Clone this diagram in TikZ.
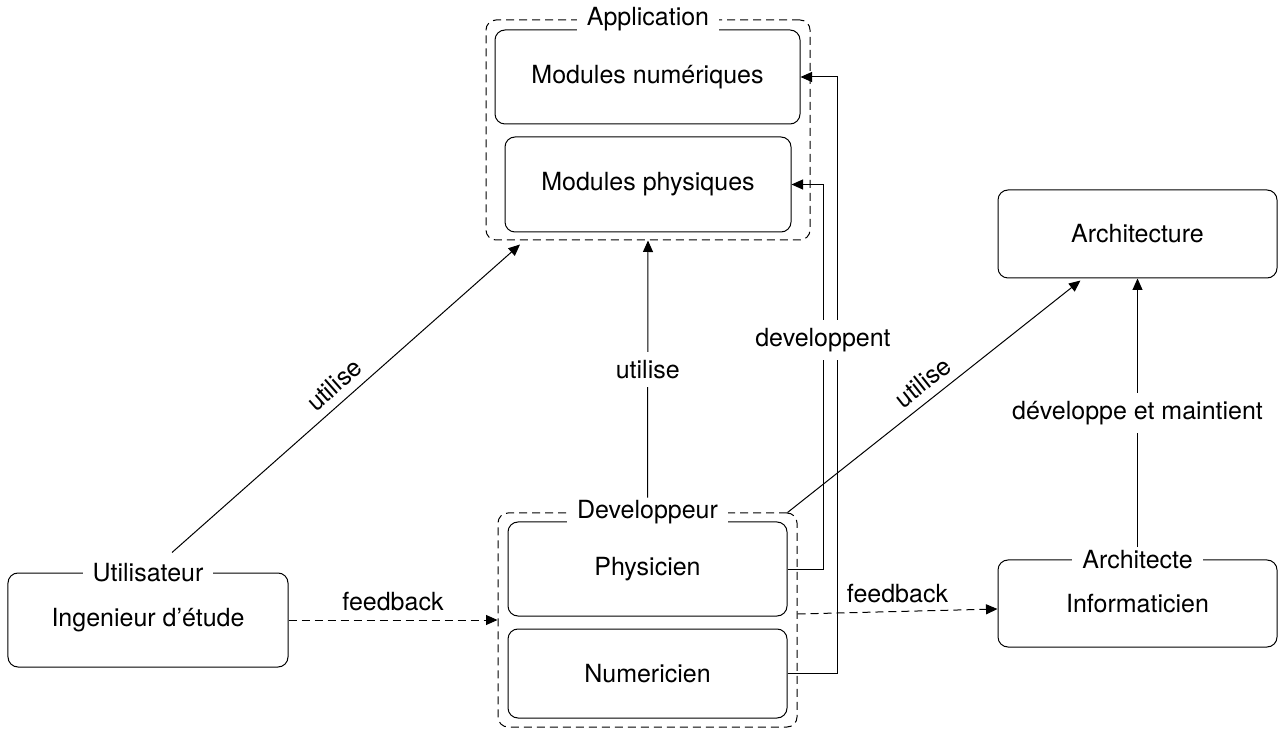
\documentclass[tikz,border=0pt]{standalone}
\usepackage{fontspec}
\setmainfont{TeX Gyre Heros}
\usetikzlibrary{arrows.meta,calc}
\begin{document}
\begin{tikzpicture}[x=0.4pt,y=-0.4pt,
	box/.style={draw,rounded corners=4pt,inner sep=0pt},
	grp/.style={draw,rounded corners=4pt,dash pattern=on 3.2pt off 2pt,inner sep=0pt},
	ttl/.style={fill=white,inner xsep=4pt,inner ysep=1pt},
	lbl/.style={fill=white,inner xsep=2pt,inner ysep=3.3pt},
	arr/.style={-{Triangle[length=4.6pt,width=4pt]}},
	fb/.style={arr,dash pattern=on 3.2pt off 2pt}]
			\useasboundingbox(0,0) rectangle (1279,731);
			\node[grp,minimum width=129.6pt,minimum height=88pt] (app) at(648,130){};
			\node[box,minimum width=122pt,minimum height=37.6pt] (modnum) at(647.5,77){Modules numériques};
			\node[box,minimum width=114.4pt,minimum height=38pt] (modphys) at(648,184.5){Modules physiques};
			\node[ttl] (apptitle) at(app.north){Application};
			\node[grp,minimum width=119.6pt,minimum height=85.6pt] (dev) at(647.5,620){};
			\node[box,minimum width=111.6pt,minimum height=37.6pt] (phys) at(647.5,569){Physicien};
			\node[box,minimum width=111.6pt,minimum height=35.6pt] (numer) at(647.5,673.5){Numericien};
			\node[ttl] (devtitle) at(dev.north){Developpeur};
			\node[box,minimum width=112pt,minimum height=37.6pt] (util) at(148,620){Ingenieur d’étude};
			\node[ttl] (utiltitle) at(util.north){Utilisateur};
			\node[box,minimum width=111.6pt,minimum height=35.2pt] (archi) at(1137.5,234){Architecture};
			\node[box,minimum width=111.6pt,minimum height=34.8pt] (archt) at(1137.5,603.5){Informaticien};
			\node[ttl] (archttitle) at(archt.north){Architecte};
			\draw[arr]($(util.north)+(24,-20)$)--($(app.south)+(-128,4)$) node[midway,above,sloped,inner ysep=3.3pt]{utilise};
			\draw[arr](devtitle.north)--(app.south) node[lbl,midway]{utilise};
			\draw[arr]($(dev.north east)+(-10,0)$)--($(archi.south)+(-57,2)$) node[midway,above,sloped,inner ysep=3.3pt]{utilise};
			\draw[arr](archttitle.north)--(archi.south) node[lbl,midway]{développe et maintient};
			\draw[arr](phys.east)--++(36,0)|-(modphys.east);
			\draw[arr](numer.east)--++(50,0)|-(modnum.east);
			\node[lbl] (devlbl) at(823,340){developpent};
			\draw[fb](util.east)--(dev.west) node[midway,above,inner ysep=3.3pt]{feedback};
			\draw[fb]($(dev.east)+(0,-6)$)--($(archt.west)+(0,5.5)$) node[midway,above,inner ysep=3.3pt]{feedback};
			\end{tikzpicture}
\end{document}
